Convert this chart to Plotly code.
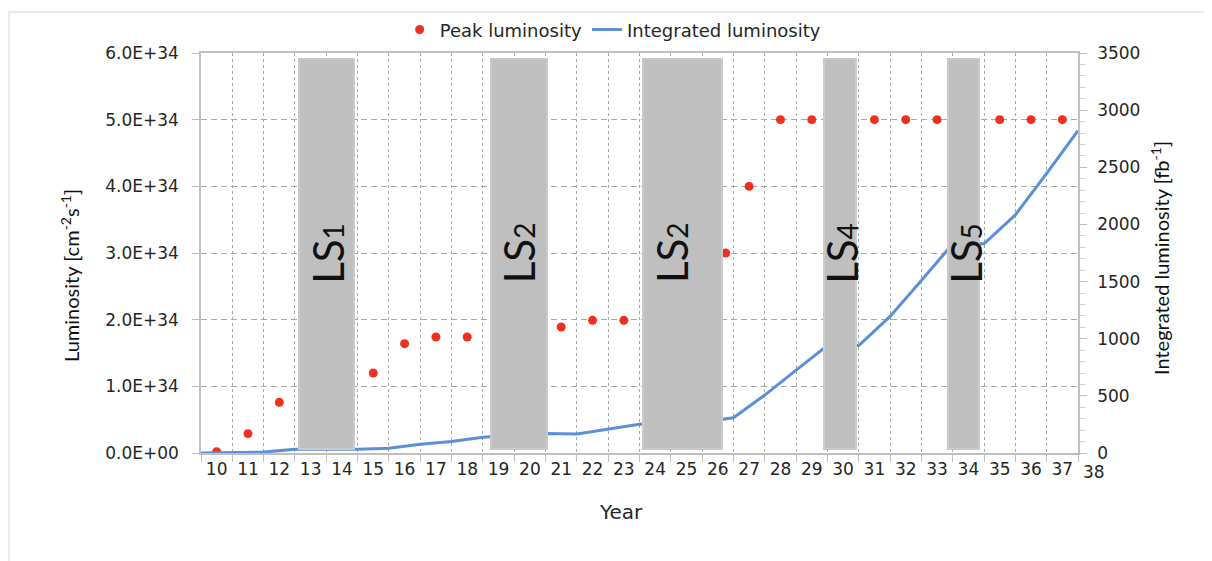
import plotly.graph_objects as go

# peak luminosity per year (left axis, cm-2 s-1)
peak_years = [10, 11, 12, 15, 16, 17, 18, 21, 22, 23, 26.25, 27, 28, 29, 31, 32, 33, 35, 36, 37]
peak_lumi = [0.02e34, 0.29e34, 0.76e34, 1.2e34, 1.64e34, 1.74e34, 1.74e34, 1.89e34, 1.99e34, 1.99e34,
             3.0e34, 4.0e34, 5.0e34, 5.0e34, 5.0e34, 5.0e34, 5.0e34, 5.0e34, 5.0e34, 5.0e34]

# integrated luminosity at year boundaries (right axis, fb-1)
int_years = [9.5, 10.5, 11.5, 12.5, 13.5, 14.5, 15.5, 16.5, 17.5, 18.5, 19.5, 20.5, 21.5, 22.5, 23.5,
             24.5, 25.5, 26.5, 27.5, 28.5, 29.5, 30.5, 31.5, 32.5, 33.5, 34.5, 35.5, 36.5, 37.5]
int_lumi = [0, 2, 8, 32, 32, 32, 41, 76, 100, 137, 155, 170, 167, 210, 251,
            262, 272, 309, 507, 725, 940, 940, 1195, 1510, 1830, 1830, 2083, 2447, 2820]

# long shutdowns
ls_names = ["LS", "LS", "LS", "LS", "LS"]
ls_digits = ["1", "2", "2", "4", "5"]
ls_center = [13.52, 19.65, 24.87, 29.91, 33.84]
ls_width = [1.76, 1.81, 2.52, 1.01, 1.01]
ls_label_x = [13.55, 19.66, 24.54, 29.96, 33.92]
ls_bottom = 35
ls_top = 3447

year_labels = [str(y) for y in range(10, 39)]
y_tickvals = [0, 1e34, 2e34, 3e34, 4e34, 5e34, 6e34]
y_ticktext = ["0.0E+00", "1.0E+34", "2.0E+34", "3.0E+34", "4.0E+34", "5.0E+34", "6.0E+34"]

tick_font = dict(family="DejaVu Sans", size=17, color="#262626")
title_font = dict(family="Lato", size=20, color="#111111")
grid_col = "#a8a8a8"
frame_col = "#bfbfbf"

fig = go.Figure()

fig.add_trace(go.Scatter(
    x=peak_years, y=peak_lumi, mode="markers", name="Peak luminosity",
    marker=dict(color="#f0301f", size=9), yaxis="y"
))
fig.add_trace(go.Scatter(
    x=int_years, y=int_lumi, mode="lines", name="Integrated luminosity",
    line=dict(color="#5b8fd6", width=3), yaxis="y2"
))
# shutdown blocks on their own overlay so they sit above the line
fig.add_trace(go.Bar(
    x=ls_center, y=[ls_top - ls_bottom] * len(ls_center), base=ls_bottom, width=ls_width,
    marker=dict(color="#bfbfbf", line=dict(color="#cacaca", width=2)),
    yaxis="y3", showlegend=False, hoverinfo="skip"
))

for name, dig, xpos in zip(ls_names, ls_digits, ls_label_x):
    fig.add_annotation(
        x=xpos, y=3e34, xref="x", yref="y", showarrow=False, textangle=-90,
        text=f'{name}<span style="font-size:28px">{dig}</span>',
        font=dict(family="Lato", size=42, color="#111111")
    )

# last year label sits past the plot edge
fig.add_annotation(
    x=(38 - 9.5) / 28, y=0, xref="paper", yref="paper", xanchor="center", yanchor="top",
    yshift=-7, showarrow=False, text=year_labels[-1], font=tick_font
)

# axis titles
fig.add_annotation(x=-0.1494, y=0.445, xref="paper", yref="paper", showarrow=False, textangle=-90,
                   xanchor="center", yanchor="middle",
                   text="Luminosity [cm<sup>-2</sup>s<sup>-1</sup>]", font=title_font)
fig.add_annotation(x=1.0935, y=0.4875, xref="paper", yref="paper", showarrow=False, textangle=-90,
                   xanchor="center", yanchor="middle",
                   text="Integrated luminosity [fb<sup>-1</sup>]", font=title_font)
fig.add_annotation(x=0.479, y=-0.1475, xref="paper", yref="paper", showarrow=False,
                   xanchor="center", yanchor="middle",
                   text="Year", font=dict(family="DejaVu Sans", size=20, color="#262626"))

# faint outer frame
fig.add_shape(type="path", xref="paper", yref="paper",
              path="M -0.2189 -0.3 L -0.2189 1.1025 L 1.2 1.1025",
              line=dict(color="#e2e2e2", width=1.5))

fig.update_layout(
    width=1204, height=553,
    margin=dict(l=193, r=134, t=45, b=108, autoexpand=False),
    paper_bgcolor="white", plot_bgcolor="white",
    font=dict(family="DejaVu Sans", color="#262626"),
    showlegend=True,
    legend=dict(orientation="h", x=0.47, xanchor="center", y=1.058, yanchor="middle",
                font=dict(family="DejaVu Sans", size=18, color="#262626"),
                bgcolor="rgba(0,0,0,0)", itemwidth=30, traceorder="normal"),
    xaxis=dict(
        range=[9.5, 37.5], tickmode="array", tickvals=list(range(10, 38)), ticktext=year_labels[:-1],
        ticks="", showgrid=False, zeroline=False,
        showline=True, linecolor=frame_col, linewidth=1.5, mirror=True,
        tickfont=tick_font,
        minor=dict(tick0=9.5, dtick=1, ticks="outside", ticklen=7, tickcolor=frame_col,
                   showgrid=True, gridcolor=grid_col, griddash="3px,3px", gridwidth=1),
    ),
    yaxis=dict(
        range=[0, 6e34], tickmode="array", tickvals=y_tickvals, ticktext=y_ticktext,
        ticks="outside", ticklen=7, tickcolor=frame_col, tickfont=tick_font, ticklabelstandoff=10,
        showgrid=True, gridcolor=grid_col, griddash="6px,4px", gridwidth=1, zeroline=False,
        showline=True, linecolor=frame_col, linewidth=1.5,
    ),
    yaxis2=dict(
        range=[0, 3500], overlaying="y", side="right", tickmode="linear", tick0=0, dtick=500,
        ticks="outside", ticklen=7, tickcolor=frame_col, ticklabelstandoff=7,
        tickfont=tick_font, showgrid=False, zeroline=False,
        showline=True, linecolor=frame_col, linewidth=1.5,
        minor=dict(dtick=100, ticks="outside", ticklen=5, tickcolor="#d0d0d0", showgrid=False),
    ),
    yaxis3=dict(
        range=[0, 3500], overlaying="y", visible=False, showgrid=False, zeroline=False,
    ),
    bargap=0,
)

fig.write_html("out.html")
